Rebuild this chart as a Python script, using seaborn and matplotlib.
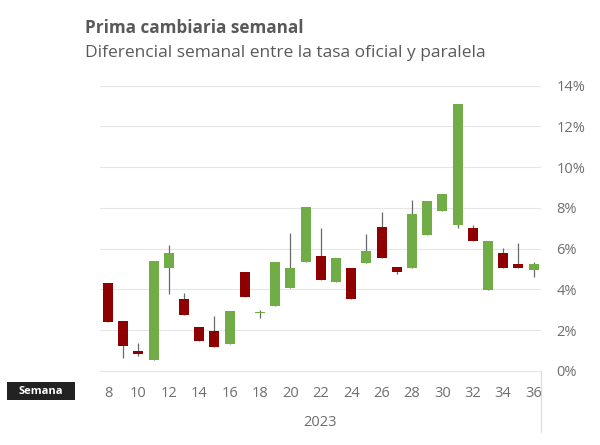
import matplotlib
matplotlib.use("Agg")
import matplotlib.pyplot as plt
from matplotlib.patches import Rectangle
from matplotlib.lines import Line2D
import pandas as pd
import seaborn as sns

weeks = list(range(8, 37))
# low and high of each candle body
body_low = [2.39, 1.24, 0.83, 0.52, 5.06, 2.73, 1.49, 1.18, 1.34, 3.64, 2.83, 3.20, 4.08, 5.34, 4.46,
            4.38, 3.53, 5.29, 5.54, 4.85, 5.03, 6.67, 7.86, 7.17, 6.39, 3.99, 5.07, 5.07, 4.97]
body_high = [4.31, 2.45, 0.99, 5.39, 5.77, 3.51, 2.17, 1.95, 2.96, 4.84, 2.89, 5.34, 5.03, 8.04, 5.64,
             5.54, 5.05, 5.88, 7.06, 5.10, 7.68, 8.32, 8.69, 13.10, 6.99, 6.36, 5.77, 5.26, 5.25]
wick_low = [2.39, 0.64, 0.74, 0.52, 3.79, 2.73, 1.49, 1.18, 1.34, 3.64, 2.61, 3.20, 4.08, 5.34, 4.46,
            4.38, 3.53, 5.29, 5.54, 4.77, 5.03, 6.67, 7.86, 7.02, 6.39, 3.99, 5.07, 5.07, 4.59]
wick_high = [4.31, 2.45, 1.36, 5.39, 6.20, 3.82, 2.17, 2.71, 2.96, 4.84, 2.97, 5.34, 6.75, 8.04, 7.00,
             5.54, 5.05, 6.72, 7.79, 5.10, 8.37, 8.32, 8.69, 13.10, 7.16, 6.36, 6.04, 6.26, 5.34]
direction = ["down", "down", "down", "up", "up", "down", "down", "down", "up", "down", "up", "up", "up", "up", "down",
             "up", "down", "up", "down", "down", "up", "up", "up", "up", "down", "up", "down", "down", "up"]
week_ticks = list(range(8, 37, 2))
pct_ticks = list(range(0, 15, 2))

GREEN = "#70ad47"
RED = "#8f0000"
GRID = "#e6e6e6"
TEXT = "#6e6e6e"

sns.set_theme(style="white")
plt.rcParams["font.family"] = ["Open Sans", "DejaVu Sans"]

df = pd.DataFrame({"week": weeks, "low": body_low, "high": body_high,
                   "wlow": wick_low, "whigh": wick_high, "dir": direction})
df["height"] = df["high"] - df["low"]

fig = plt.figure(figsize=(6, 4.45), dpi=100)
ax = fig.add_axes([100 / 600, (445 - 371) / 445, 441 / 600, 285.5 / 445])

ax.set_axisbelow(True)
ax.yaxis.grid(True, color=GRID, linewidth=0.8)
ax.vlines(df["week"], df["wlow"], df["whigh"], color="#6a6a6a", linewidth=0.9, zorder=2)

# candle bodies, one barplot per colour
for name, colour in [("up", GREEN), ("down", RED)]:
    sub = df[df["dir"] == name]
    sns.barplot(data=sub, x="week", y="height", bottom=sub["low"].values, color=colour, saturation=1,
                native_scale=True, width=0.66, errorbar=None, ax=ax, zorder=3, linewidth=0)

ax.set_xlim(7.474, 36.49)
ax.set_ylim(0, 14)
ax.set_xticks(week_ticks)
ax.set_xticklabels(week_ticks)
ax.set_yticks(pct_ticks)
ax.set_yticklabels([f"{p}%" for p in pct_ticks])
ax.yaxis.tick_right()
ax.tick_params(axis="x", length=0, labelsize=10.5, labelcolor=TEXT, pad=11)
ax.tick_params(axis="y", length=0, labelsize=10.5, labelcolor=TEXT, pad=11)
ax.set_xlabel("")
ax.set_ylabel("")
sns.despine(ax=ax, left=True, right=True, top=True, bottom=False)
ax.spines["bottom"].set_color(GRID)
ax.spines["bottom"].set_linewidth(0.8)

fig.add_artist(Line2D([541 / 600, 541 / 600], [1 - 432 / 445, 1 - 371 / 445], color="#d9d9d9", linewidth=0.8))
fig.add_artist(Rectangle((7 / 600, 1 - 400 / 445), 68 / 600, 18 / 445, color="#222222", linewidth=0))
fig.text(41 / 600, 1 - 391 / 445, "Semana", color="white", fontsize=8, fontweight="bold", ha="center", va="center")
fig.text(320 / 600, 1 - 423 / 445, "2023", color=TEXT, fontsize=10.5, ha="center", va="center")
fig.text(85 / 600, 1 - 28 / 445, "Prima cambiaria semanal", color="#595959", fontsize=12.3, fontweight="bold", ha="left", va="center")
fig.text(85 / 600, 1 - 53 / 445, "Diferencial semanal entre la tasa oficial y paralela", color="#595959", fontsize=12.5, ha="left", va="center")

fig.savefig("out.png", dpi=100)
